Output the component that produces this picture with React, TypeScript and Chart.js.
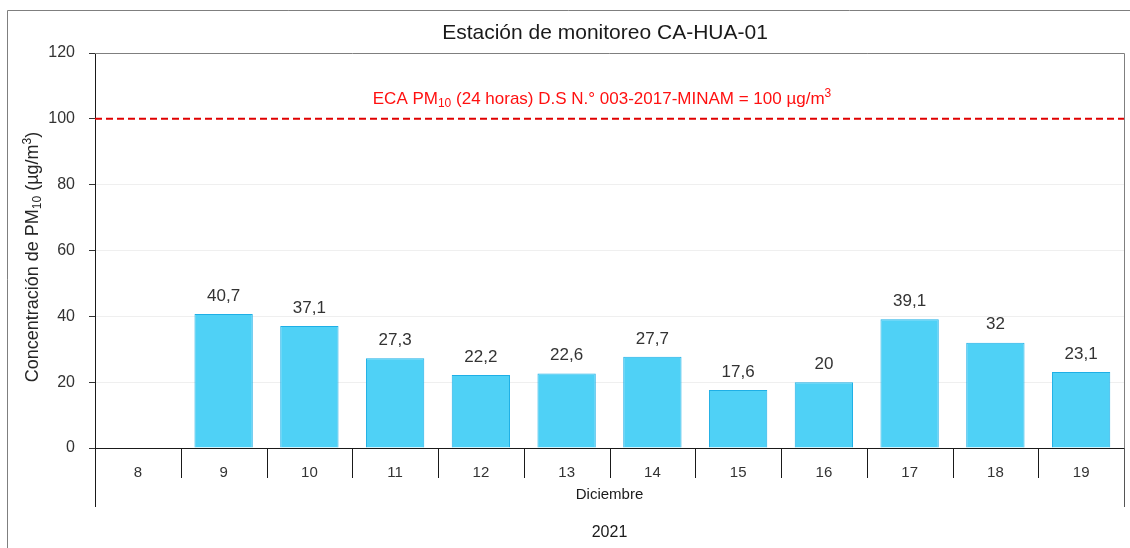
import React, { useEffect, useRef } from "react";
import { Chart, registerables } from "chart.js";

Chart.register(...registerables);

const categories = ["8", "9", "10", "11", "12", "13", "14", "15", "16", "17", "18", "19"];
const pm10Values: (number | null)[] = [null, 40.7, 37.1, 27.3, 22.2, 22.6, 27.7, 17.6, 20, 39.1, 32, 23.1];
const ecaLimit = 100;
const yMin = 0;
const yMax = 120;
const yStep = 20;
const chartTitle = "Estación de monitoreo CA-HUA-01";
const monthLabel = "Diciembre";
const yearLabel = "2021";

const FONT = "'Liberation Sans', Arial, sans-serif";

type Seg = { t: string; sub?: boolean; sup?: boolean };

function drawRich(ctx: CanvasRenderingContext2D, segs: Seg[], x: number, y: number, size: number, color: string) {
  const small = Math.round(size * 0.68);
  let total = 0;
  const widths: number[] = [];
  for (const s of segs) {
    ctx.font = `${s.sub || s.sup ? small : size}px ${FONT}`;
    const w = ctx.measureText(s.t).width;
    widths.push(w);
    total += w;
  }
  let cx = x - total / 2;
  ctx.fillStyle = color;
  ctx.textBaseline = "middle";
  ctx.textAlign = "left";
  segs.forEach((s, i) => {
    ctx.font = `${s.sub || s.sup ? small : size}px ${FONT}`;
    const dy = s.sub ? size * 0.28 : s.sup ? -size * 0.32 : 0;
    ctx.fillText(s.t, cx, y + dy);
    cx += widths[i];
  });
}

const decor = {
  id: "decor",
  beforeDraw(chart: any) {
    const ctx = chart.ctx as CanvasRenderingContext2D;
    ctx.save();
    ctx.fillStyle = "#fff";
    ctx.fillRect(0, 0, chart.width, chart.height);
    ctx.strokeStyle = "#7f7f7f";
    ctx.lineWidth = 1;
    ctx.beginPath();
    ctx.moveTo(7.5, chart.height);
    ctx.lineTo(7.5, 10.5);
    ctx.lineTo(chart.width, 10.5);
    ctx.stroke();
    ctx.restore();
  },
  afterDatasetsDraw(chart: any) {
    const ctx = chart.ctx as CanvasRenderingContext2D;
    const area = chart.chartArea;
    const xs = chart.scales.x;
    const ys = chart.scales.y;
    ctx.save();
    ctx.strokeStyle = "#7f7f7f";
    ctx.lineWidth = 1;
    ctx.beginPath();
    ctx.moveTo(area.left, Math.round(area.top) + 0.5);
    ctx.lineTo(Math.round(area.right) + 0.5, Math.round(area.top) + 0.5);
    ctx.lineTo(Math.round(area.right) + 0.5, area.bottom + 59);
    ctx.stroke();

    const yl = ys.getPixelForValue(ecaLimit);
    ctx.strokeStyle = "#E00000";
    ctx.lineWidth = 2;
    ctx.setLineDash([7, 4]);
    ctx.beginPath();
    ctx.moveTo(area.left, yl);
    ctx.lineTo(area.right, yl);
    ctx.stroke();
    ctx.setLineDash([]);
    drawRich(
      ctx,
      [
        { t: "ECA PM" },
        { t: "10", sub: true },
        { t: " (24 horas) D.S N.° 003-2017-MINAM = 100 µg/m" },
        { t: "3", sup: true },
      ],
      602,
      yl - 20,
      17,
      "#FF1010"
    );

    const meta = chart.getDatasetMeta(0);
    ctx.fillStyle = "#333";
    ctx.font = `17px ${FONT}`;
    ctx.textAlign = "center";
    ctx.textBaseline = "middle";
    meta.data.forEach((bar: any, i: number) => {
      const v = pm10Values[i];
      if (v == null) return;
      ctx.fillText(String(v).replace(".", ","), bar.x, bar.y - 18);
    });

    const n = categories.length;
    const step = (xs.right - xs.left) / n;
    ctx.strokeStyle = "#1a1a1a";
    ctx.lineWidth = 1;
    for (let k = 0; k <= n; k++) {
      const x = Math.round(xs.left + k * step) + 0.5;
      const end = k === 0 || k === n ? area.bottom + 59 : area.bottom + 30;
      if (k === n) ctx.strokeStyle = "#555";
      ctx.beginPath();
      ctx.moveTo(x, area.bottom);
      ctx.lineTo(x, end);
      ctx.stroke();
    }

    const midX = (area.left + area.right) / 2;
    ctx.fillStyle = "#1a1a1a";
    ctx.textAlign = "center";
    ctx.textBaseline = "middle";
    ctx.font = `15px ${FONT}`;
    ctx.fillText(monthLabel, midX, area.bottom + 47);
    ctx.font = `16px ${FONT}`;
    ctx.fillText(yearLabel, midX, area.bottom + 85);

    ctx.font = `21px ${FONT}`;
    ctx.fillStyle = "#1a1a1a";
    ctx.fillText(chartTitle, 605, 33);

    ctx.translate(33, 257);
    ctx.rotate(-Math.PI / 2);
    drawRich(
      ctx,
      [
        { t: "Concentración de PM" },
        { t: "10", sub: true },
        { t: " (µg/m" },
        { t: "3", sup: true },
        { t: ")" },
      ],
      0,
      0,
      18,
      "#262626"
    );
    ctx.restore();
  },
};

export default function App() {
  const ref = useRef<HTMLCanvasElement | null>(null);
  useEffect(() => {
    if (!ref.current) return;
    const chart = new Chart(ref.current, {
      type: "bar",
      data: {
        labels: categories,
        datasets: [
          {
            data: pm10Values as any,
            backgroundColor: "#4FD1F6",
            borderColor: "#1EAFE6",
            borderWidth: 1,
            barPercentage: 0.68,
            categoryPercentage: 1,
          },
        ],
      },
      options: {
        animation: false,
        responsive: false,
        maintainAspectRatio: false,
        layout: { padding: { left: 0, top: 53, right: 6, bottom: 0 } },
        plugins: { legend: { display: false }, title: { display: false }, tooltip: { enabled: false } },
        scales: {
          x: {
            offset: true,
            grid: { display: false },
            border: { display: true, color: "#1a1a1a", width: 1 },
            ticks: { color: "#333", font: { family: FONT, size: 15 }, padding: 8, maxRotation: 0 },
            afterFit: (s: any) => {
              s.height = 100;
            },
          },
          y: {
            min: yMin,
            max: yMax,
            ticks: { stepSize: yStep, color: "#333", font: { family: FONT, size: 16 }, padding: 14 },
            grid: {
              color: (c: any) => (c.tick && (c.tick.value === 0 || c.tick.value === yMax || c.tick.value === ecaLimit) ? "rgba(0,0,0,0)" : "#efefef"),
              tickColor: "#333",
              tickLength: 6,
              drawTicks: true,
            },
            border: { display: true, color: "#1a1a1a", width: 1 },
            afterFit: (s: any) => {
              s.width = 95;
            },
          },
        },
      },
      plugins: [decor],
    });
    return () => chart.destroy();
  }, []);
  return (
    <div style={{ position: "fixed", left: 0, top: 0, width: 1130, height: 548, background: "#fff" }}>
      <canvas ref={ref} width={1130} height={548} style={{ display: "block", width: 1130, height: 548 }} />
    </div>
  );
}
